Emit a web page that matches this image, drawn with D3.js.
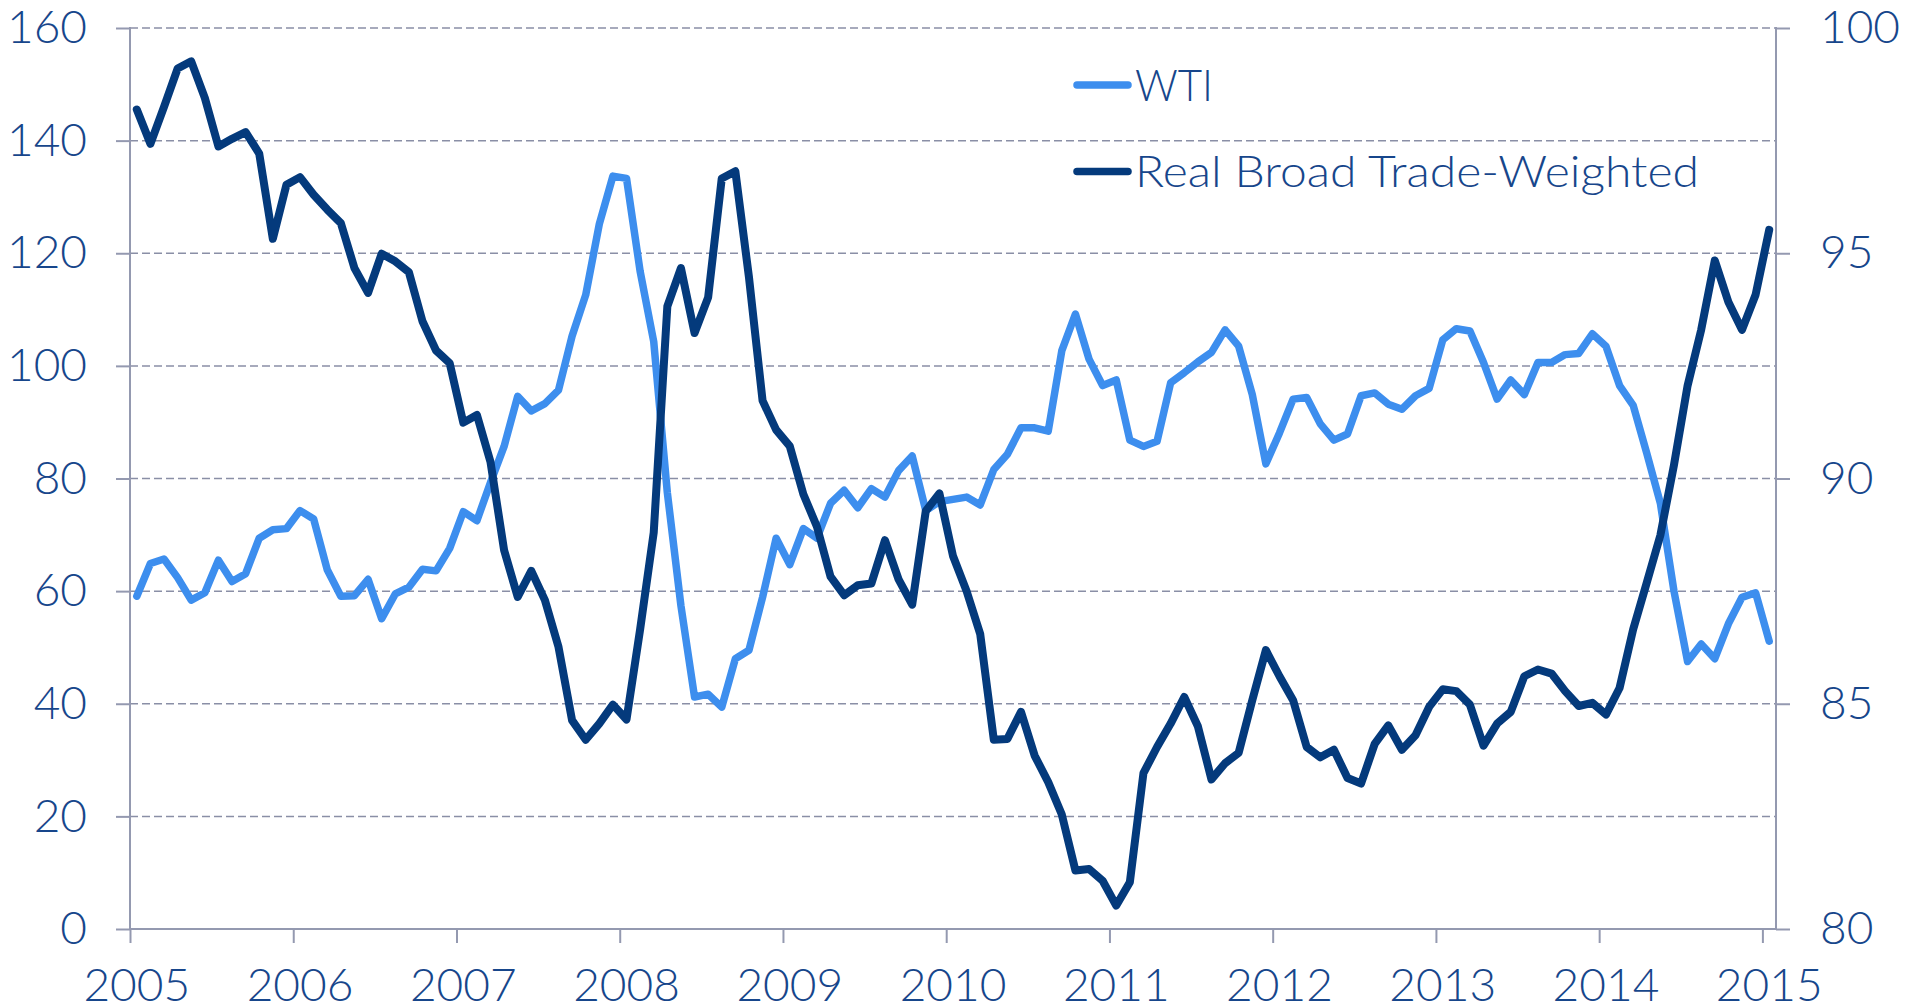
<!DOCTYPE html>
<html>
<head>
<meta charset="utf-8">
<script src="https://cdn.jsdelivr.net/npm/d3@7"></script>
<style>
  html, body { margin: 0; padding: 0; background: #ffffff; }
  svg { display: block; }
  text { font-family: Lato, "Open Sans", sans-serif; font-weight: 300; fill: #17468b; }
</style>
</head>
<body>
<svg id="chart" width="1917" height="1008"></svg>
<script>
// ---- data (monthly, 121 points) ----
const yearLabels = ["2005","2006","2007","2008","2009","2010","2011","2012","2013","2014","2015"];
const leftTicks = [0, 20, 40, 60, 80, 100, 120, 140, 160];
const rightTicks = [80, 85, 90, 95, 100];
const seriesNames = ["WTI", "Real Broad Trade-Weighted"];

const wti = [
  59.1, 64.9, 65.7, 62.4, 58.4, 59.7, 65.5, 61.7, 63.1, 69.4, 70.9, 71.1,
  74.3, 72.8, 63.8, 59.1, 59.2, 62.1, 55.1, 59.5, 60.7, 63.9, 63.6, 67.6,
  74.1, 72.5, 79.3, 85.7, 94.6, 92.0, 93.3, 95.7, 105.3, 112.6, 125.2, 133.7,
  133.3, 116.8, 104.3, 77.5, 57.4, 41.2, 41.7, 39.4, 48.0, 49.5, 58.9, 69.4,
  64.7, 71.1, 69.4, 75.6, 77.9, 74.8, 78.2, 76.7, 81.4, 84.0, 74.3, 75.9,
  76.3, 76.7, 75.3, 81.6, 84.3, 89.0, 89.0, 88.4, 102.7, 109.2, 101.2, 96.5,
  97.5, 86.8, 85.7, 86.6, 97.0, 98.8, 100.7, 102.4, 106.4, 103.5, 94.9, 82.6,
  88.1, 94.1, 94.4, 89.7, 86.8, 87.9, 94.7, 95.2, 93.2, 92.3, 94.7, 96.0,
  104.6, 106.6, 106.2, 100.6, 94.1, 97.5, 94.9, 100.6, 100.6, 102.0, 102.2, 105.7,
  103.5, 96.5, 93.0, 84.5, 75.6, 60.0, 47.5, 50.6, 48.0, 54.2, 58.9, 59.7,
  51.1
];

const dollar = [
  98.19, 97.43, 98.25, 99.10, 99.26, 98.45, 97.37, 97.54, 97.69, 97.21, 95.32, 96.52,
  96.69, 96.30, 95.97, 95.67, 94.67, 94.12, 94.99, 94.82, 94.58, 93.49, 92.84, 92.56,
  91.24, 91.41, 90.37, 88.41, 87.37, 87.95, 87.30, 86.26, 84.63, 84.20, 84.56, 84.98,
  84.65, 86.65, 88.80, 93.82, 94.67, 93.23, 94.02, 96.66, 96.82, 94.47, 91.73, 91.08,
  90.72, 89.65, 88.93, 87.82, 87.41, 87.63, 87.67, 88.63, 87.76, 87.20, 89.28, 89.67,
  88.28, 87.50, 86.55, 84.20, 84.22, 84.82, 83.85, 83.26, 82.54, 81.30, 81.33, 81.07,
  80.52, 81.04, 83.46, 84.04, 84.56, 85.15, 84.50, 83.32, 83.68, 83.91, 85.08, 86.19,
  85.61, 85.08, 84.04, 83.81, 83.98, 83.35, 83.23, 84.11, 84.52, 83.98, 84.30, 84.93,
  85.32, 85.28, 84.98, 84.07, 84.56, 84.82, 85.61, 85.76, 85.67, 85.28, 84.95, 85.02,
  84.76, 85.35, 86.65, 87.69, 88.74, 90.30, 92.06, 93.30, 94.84, 93.92, 93.30, 94.08,
  95.52
];

// ---- layout ----
const svg = d3.select("#chart");
const plotL = 130, plotR = 1776, plotT = 28, plotB = 929;
const colWTI = "#3d8eee", colUSD = "#043a7c", axisCol = "#9499b0", gridCol = "#8a8fa6";
const fontSize = 46;

const idx = d3.range(wti.length);
const x = d3.scaleBand().domain(idx).range([plotL, plotR]).paddingInner(0).paddingOuter(0);
const xb = d3.scaleLinear().domain([0, wti.length]).range([plotL, plotR]);
const yL = d3.scaleLinear().domain([0, 160]).range([plotB, plotT]);
const yR = d3.scaleLinear().domain([80, 100]).range([plotB, plotT]);
const cx = i => x(i) + x.bandwidth() / 2;

// gridlines
svg.append("g").selectAll("line").data(leftTicks.filter(v => v > 0)).join("line")
  .attr("x1", plotL).attr("x2", plotR)
  .attr("y1", d => yL(d)).attr("y2", d => yL(d))
  .attr("stroke", gridCol).attr("stroke-width", 1.5).attr("stroke-dasharray", "8,4");

// left axis
const gL = svg.append("g").attr("transform", `translate(${plotL},0)`)
  .call(d3.axisLeft(yL).tickValues(leftTicks).tickSize(14).tickPadding(29));
// right axis
const gR = svg.append("g").attr("transform", `translate(${plotR},0)`)
  .call(d3.axisRight(yR).tickValues(rightTicks).tickSize(14).tickPadding(30));
// x axis: tick marks at year boundaries
const yearIdx = yearLabels.map((_, k) => k * 12);
const gXt = svg.append("g").attr("transform", `translate(0,${plotB})`)
  .call(d3.axisBottom(xb).tickValues(yearIdx).tickSize(14).tickFormat(""));
// x axis labels at first month of each year
const gXl = svg.append("g").attr("transform", `translate(0,${plotB})`)
  .call(d3.axisBottom(x).tickValues(yearIdx).tickSize(0).tickPadding(39)
        .tickFormat((d, k) => yearLabels[k]));

[gL, gR, gXt, gXl].forEach(g => {
  g.selectAll(".domain").attr("stroke", axisCol).attr("stroke-width", 2);
  g.selectAll(".tick line").attr("stroke", axisCol).attr("stroke-width", 2);
  g.selectAll("text").attr("font-family", "Lato, 'Open Sans', sans-serif")
    .attr("font-weight", 300).attr("font-size", fontSize).attr("fill", "#17468b");
});
gXl.select(".domain").remove();
gL.select(".domain").attr("d", `M0,${plotT - 1}V${plotB}`);
gR.select(".domain").attr("d", `M0,${plotT - 1}V${plotB}`);
gXt.select(".domain").attr("d", `M${plotL},0H${plotR}`);

// lines
const lineW = d3.line().x((d, i) => cx(i)).y(d => yL(d));
const lineD = d3.line().x((d, i) => cx(i)).y(d => yR(d));
svg.append("path").datum(wti).attr("d", lineW)
  .attr("fill", "none").attr("stroke", colWTI).attr("stroke-width", 7.5)
  .attr("stroke-linejoin", "round").attr("stroke-linecap", "round");
svg.append("path").datum(dollar).attr("d", lineD)
  .attr("fill", "none").attr("stroke", colUSD).attr("stroke-width", 8)
  .attr("stroke-linejoin", "round").attr("stroke-linecap", "round");

// legend
const legend = [
  { name: seriesNames[0], color: colWTI, ly: 85, ty: 101, w: 78 },
  { name: seriesNames[1], color: colUSD, ly: 171.5, ty: 187, w: 564 }
];
const lg = svg.append("g");
legend.forEach(l => {
  lg.append("line").attr("x1", 1077).attr("x2", 1128).attr("y1", l.ly).attr("y2", l.ly)
    .attr("stroke", l.color).attr("stroke-width", 7.5).attr("stroke-linecap", "round");
  lg.append("text").attr("x", 1135).attr("y", l.ty).text(l.name)
    .attr("font-size", 44).attr("font-weight", 300)
    .attr("textLength", l.w).attr("lengthAdjust", "spacingAndGlyphs");
});
</script>
</body>
</html>
